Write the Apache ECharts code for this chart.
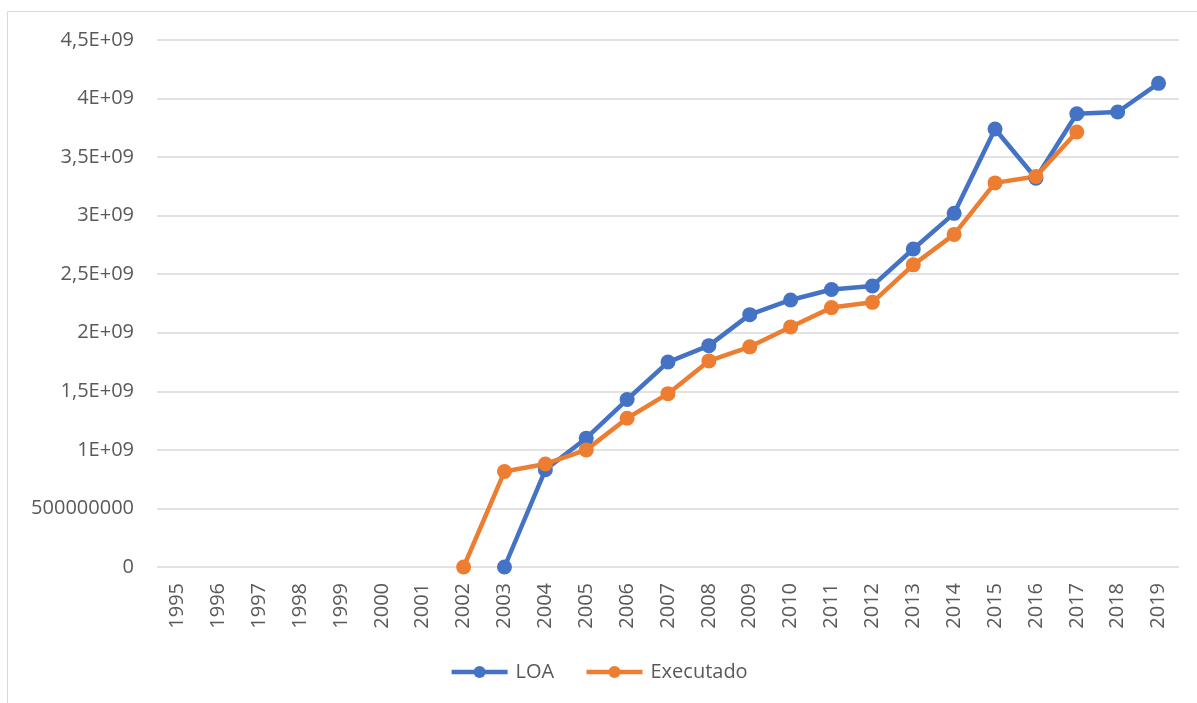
<!DOCTYPE html>
<html>
<head>
<meta charset="utf-8">
<script src="https://cdn.jsdelivr.net/npm/echarts@6/dist/echarts.min.js"></script>
<style>
  html, body { margin: 0; padding: 0; background: #fff; }
  #chart { width: 1197px; height: 703px; }
</style>
</head>
<body>
<div id="chart"></div>
<script>
// Years on the category axis
const years = ['1995','1996','1997','1998','1999','2000','2001','2002','2003','2004','2005','2006',
  '2007','2008','2009','2010','2011','2012','2013','2014','2015','2016','2017','2018','2019'];

// Budget (LOA) and executed amounts, per year
const loa = [null,null,null,null,null,null,null,null,0,0.83e9,1.10e9,1.43e9,
  1.75e9,1.89e9,2.155e9,2.28e9,2.37e9,2.40e9,2.715e9,3.02e9,3.74e9,3.32e9,3.87e9,3.885e9,4.13e9];
const executado = [null,null,null,null,null,null,null,0,0.815e9,0.88e9,1.00e9,1.27e9,
  1.48e9,1.76e9,1.88e9,2.05e9,2.215e9,2.26e9,2.58e9,2.84e9,3.28e9,3.335e9,3.715e9,null,null];

// Value axis tick labels, from 0 upward in steps of 5E+08
const yTickLabels = ['0','500000000','1E+09','1,5E+09','2E+09','2,5E+09','3E+09','3,5E+09','4E+09','4,5E+09'];

const textColor = '#595959';
const fontFamily = '"Open Sans", "Noto Sans", sans-serif';

const chart = echarts.init(document.getElementById('chart'), null, { renderer: 'canvas' });
chart.setOption({
  animation: false,
  backgroundColor: '#ffffff',
  textStyle: { fontFamily: fontFamily, color: textColor },
  graphic: [{
    type: 'rect',
    shape: { x: 7.5, y: 11.5, width: 1200, height: 700 },
    style: { fill: 'none', stroke: '#d9d9d9', lineWidth: 1 },
    silent: true
  }],
  grid: { left: 157, right: 18, top: 40, bottom: 136, containLabel: false },
  legend: {
    bottom: 16,
    left: 'center',
    itemWidth: 56,
    itemHeight: 15,
    itemGap: 30,
    lineStyle: { width: 4.5 },
    textStyle: { fontSize: 20, color: textColor, fontFamily: fontFamily, padding: [0, 0, 0, 3] },
    data: ['LOA', 'Executado']
  },
  xAxis: {
    type: 'category',
    data: years,
    boundaryGap: true,
    axisLine: { show: false },
    axisTick: { show: false },
    axisLabel: { rotate: 90, fontSize: 20, color: textColor, margin: 16, interval: 0 },
    splitLine: { show: false }
  },
  yAxis: {
    type: 'value',
    min: 0,
    max: 4.5e9,
    interval: 5e8,
    axisLine: { show: false },
    axisTick: { show: false },
    axisLabel: {
      fontSize: 20,
      color: textColor,
      margin: 23,
      formatter: function (v) { return yTickLabels[Math.round(v / 5e8)]; }
    },
    splitLine: { lineStyle: { color: '#d9d9d9', width: 1.5 } }
  },
  series: [
    {
      name: 'LOA',
      type: 'line',
      data: loa,
      color: '#4472C4',
      lineStyle: { width: 4.5, color: '#4472C4' },
      itemStyle: { color: '#4472C4' },
      symbol: 'circle',
      symbolSize: 15,
      showAllSymbol: true
    },
    {
      name: 'Executado',
      type: 'line',
      data: executado,
      color: '#ED7D31',
      lineStyle: { width: 4.5, color: '#ED7D31' },
      itemStyle: { color: '#ED7D31' },
      symbol: 'circle',
      symbolSize: 15,
      showAllSymbol: true
    }
  ]
});
</script>
</body>
</html>
